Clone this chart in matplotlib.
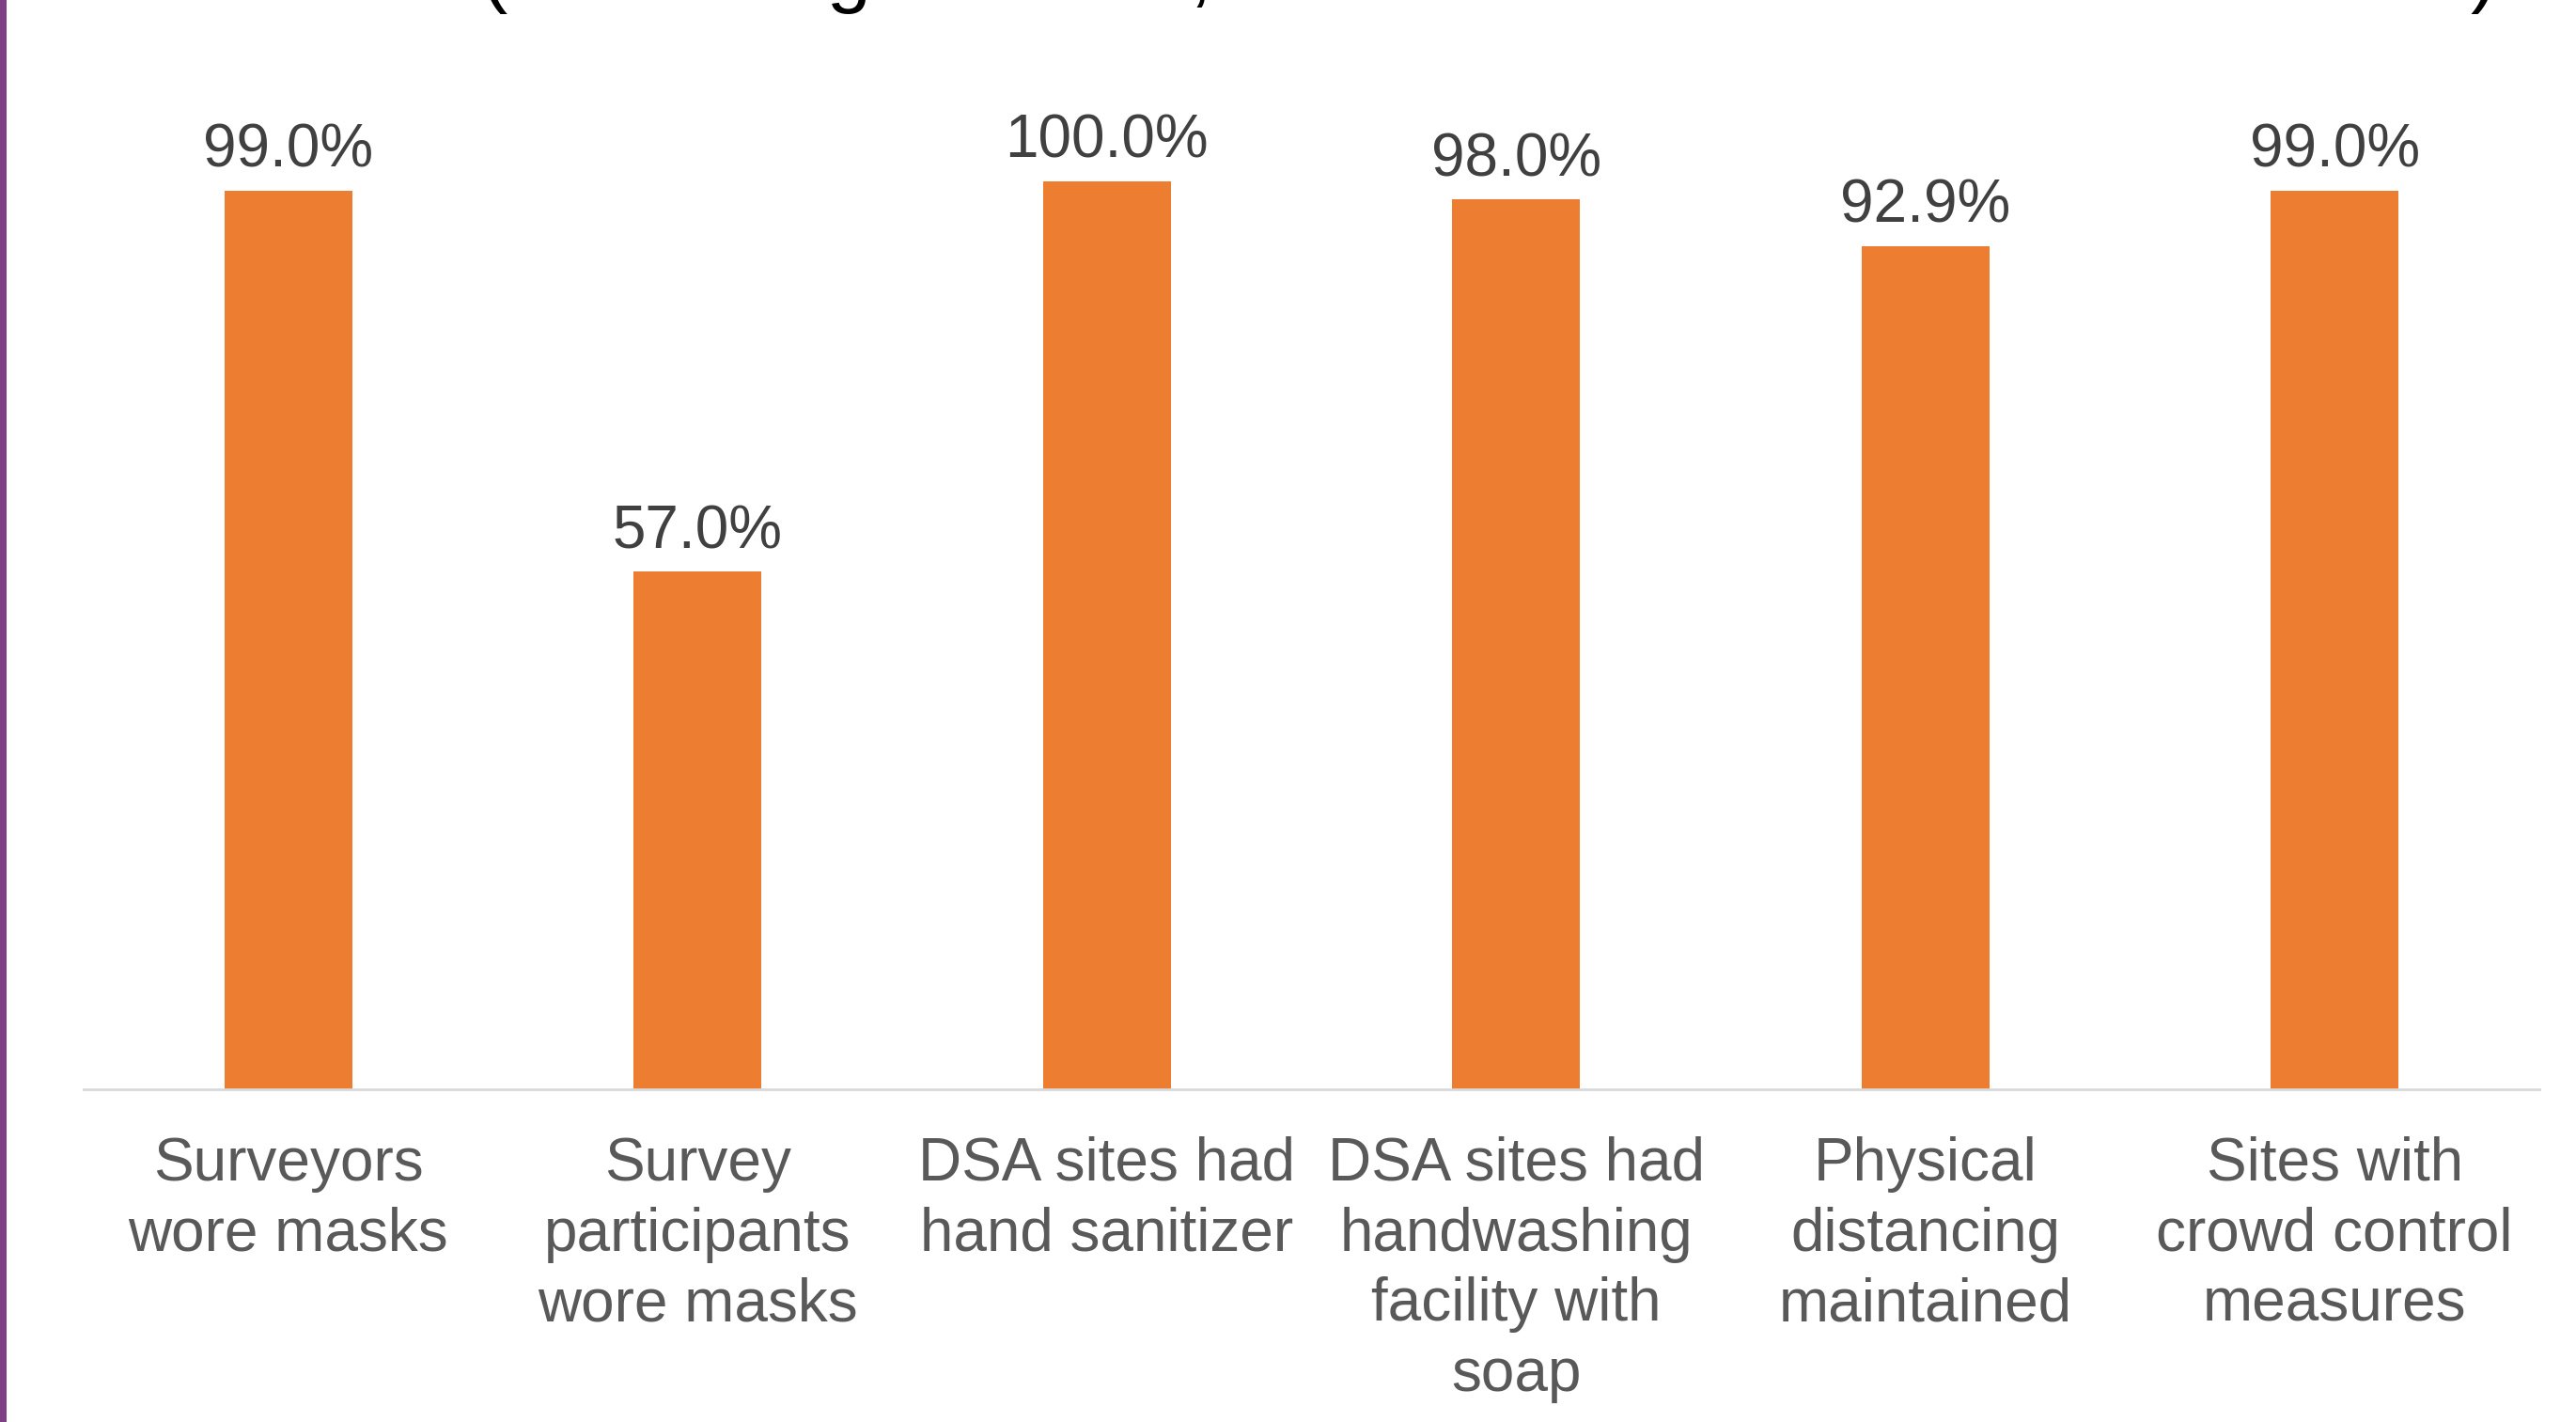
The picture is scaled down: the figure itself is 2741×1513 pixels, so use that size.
import matplotlib
matplotlib.use("Agg")
import matplotlib.pyplot as plt
from matplotlib.patches import Rectangle

categories = [
    "Surveyors\nwore masks",
    "Survey\nparticipants\nwore masks",
    "DSA sites had\nhand sanitizer",
    "DSA sites had\nhandwashing\nfacility with\nsoap",
    "Physical\ndistancing\nmaintained",
    "Sites with\ncrowd control\nmeasures",
]
values = [99.0, 57.0, 100.0, 98.0, 92.9, 99.0]
value_labels = ["99.0%", "57.0%", "100.0%", "98.0%", "92.9%", "99.0%"]
title_fragment = "(Percentage of sites, N = 1000 sites observed at all sites)"

plt.rcParams["font.family"] = ["Liberation Sans", "DejaVu Sans"]

W, H = 2741, 1513
fig = plt.figure(figsize=(W / 100, H / 100), dpi=100)
fig.patch.set_facecolor("white")

ax_left, ax_right = 89 / W, 2702 / W
ax_bottom = (H - 1159) / H
ax_top = (H - 193) / H
ax = fig.add_axes([ax_left, ax_bottom, ax_right - ax_left, ax_top - ax_bottom])

x = list(range(len(categories)))
ax.bar(x, values, width=0.312, color="#ED7D31", zorder=2)
ax.set_xlim(-0.5, len(categories) - 0.5)
ax.set_ylim(0, 100)

for s in ["top", "right", "left"]:
    ax.spines[s].set_visible(False)
ax.spines["bottom"].set_color("#D9D9D9")
ax.spines["bottom"].set_linewidth(2)
ax.set_yticks([])
ax.set_xticks([])

fs = 46
for xi, v, lab in zip(x, values, value_labels):
    ax.annotate(lab, xy=(xi, v), xytext=(0, 18), textcoords="offset points",
                ha="center", va="baseline", fontsize=fs, color="#404040",
                annotation_clip=False)

for xi, cat in zip(x, categories):
    ax.annotate(cat, xy=(xi, 0), xycoords=("data", "axes fraction"),
                xytext=(0, -36), textcoords="offset points",
                ha="center", va="top", fontsize=fs, color="#595959",
                linespacing=1.31, multialignment="center",
                annotation_clip=False)

# purple accent bar on the left edge
fig.patches.append(Rectangle((0, 0), 7 / W, 1, transform=fig.transFigure,
                             facecolor="#7E3F86", edgecolor="none"))

# clipped title line at the very top (only descenders visible)
fig.text(512 / W, 1 + 3 / H, title_fragment, ha="left", va="baseline",
         fontsize=61, color="black")

fig.savefig("out.png", dpi=100, facecolor="white")
